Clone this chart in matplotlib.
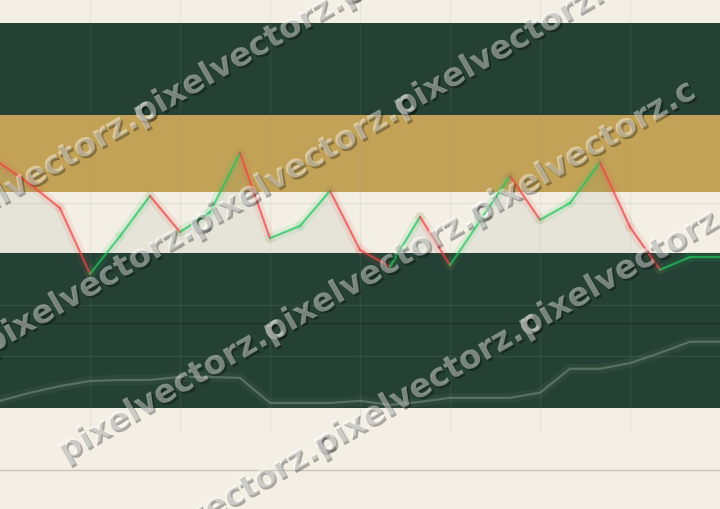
import numpy as np
import matplotlib
matplotlib.use('Agg')
import matplotlib.pyplot as plt
from matplotlib.collections import LineCollection
from matplotlib.lines import Line2D
import matplotlib.patheffects as pe

# values, one point per period
price=[57.8,53.7,49.0,36.1,43.5,51.4,44.3,48.2,59.8,43.1,45.5,52.4,40.8,
       37.5,47.3,37.8,46.5,55.3,46.7,50.0,58.0,45.3,36.9,39.4,39.4]
slow=[11.2,12.8,14.1,15.1,15.3,15.3,15.9,15.9,15.7,10.8,10.8,10.8,11.2,
      10.4,11.0,11.8,11.8,11.8,12.8,17.5,17.5,18.6,20.6,22.8,22.8]
band_lo=[67.3,52.2,9.8]
band_hi=[85.3,67.3,40.2]
grid_levels=[20,30,50]
mid_level=26.5

cream='#f3efe4'
dark='#254034'
gold='#c2a256'
band_colors=[dark,gold,dark]
up_col='#22c55e'
down_col='#ef4444'

W,H=720,509
fig=plt.figure(figsize=(W/100,H/100),dpi=100,facecolor=cream)
ax=fig.add_axes([0,1-433/H,1,433/H])
ax.set_facecolor(cream)

x=np.arange(len(price))
p=np.array(price)
ax.set_xlim(0,len(price)-1)
ax.set_ylim(4.9,89.8)

for lo,hi,c in zip(band_lo,band_hi,band_colors):
    ax.axhspan(lo,hi,color=c,lw=0,zorder=0)

# faint grid
for g in grid_levels:
    ax.axhline(g,color='#8fa093',alpha=0.14,lw=1,zorder=1)
for gx in range(3,len(price)-1,3):
    ax.axvline(gx,color='#8fa093',alpha=0.12,lw=1,zorder=1)
ax.axhline(mid_level,color='black',alpha=0.18,lw=1,zorder=1)

# shaded area under the main line, only above the lower dark band
base=band_hi[2]
ax.fill_between(x,p,base,where=p>=base,interpolate=True,color='#7d8a7d',alpha=0.1,lw=0,zorder=2)

# slow grey line with glow
ax.plot(x,slow,color='#9fb2a6',alpha=0.08,lw=7,solid_capstyle='round',zorder=3)
ax.plot(x,slow,color='#a9b9ad',alpha=0.35,lw=1.6,zorder=3)

# main line, green when rising, red when falling
segs=[[(x[i],price[i]),(x[i+1],price[i+1])] for i in range(len(price)-1)]
cols=[up_col if price[i+1]>=price[i] else down_col for i in range(len(price)-1)]
glow=LineCollection(segs,colors=cols,linewidths=7,alpha=0.1,capstyle='round',zorder=4)
ax.add_collection(glow)
lc=LineCollection(segs,colors=cols,linewidths=1.6,alpha=0.7,capstyle='round',zorder=5)
ax.add_collection(lc)

for s in ax.spines.values():
    s.set_visible(False)
ax.set_xticks([])
ax.set_yticks([])

fig.add_artist(Line2D([0,1],[1-470/H,1-470/H],color='#c9c6bb',lw=1,transform=fig.transFigure))

# watermark rows
ang=30
fs=23.5
row_c=[195,338,488,630]
row_x0=[-70,-15,60,110]
row_n=[3,3,3,3]
fig.canvas.draw()
rend=fig.canvas.get_renderer()
t=fig.text(0,0,'pixelvectorz.',fontsize=fs,fontweight='bold')
step=t.get_window_extent(rend).width*np.cos(np.radians(ang))
t.remove()
for c,x0,n in zip(row_c,row_x0,row_n):
    for k in range(n):
        px=x0+k*step
        py=c-px*np.tan(np.radians(ang))
        fig.text(px/W,1-py/H,'pixelvectorz.c',fontsize=fs,fontweight='bold',
                 color=(1,1,1,0.42),rotation=ang,rotation_mode='anchor',
                 ha='left',va='center',zorder=10,
                 path_effects=[pe.SimplePatchShadow(offset=(1.5,-1.5),shadow_rgbFace='black',alpha=0.3),pe.Normal()])

fig.savefig('out.png',dpi=100,facecolor=cream)
